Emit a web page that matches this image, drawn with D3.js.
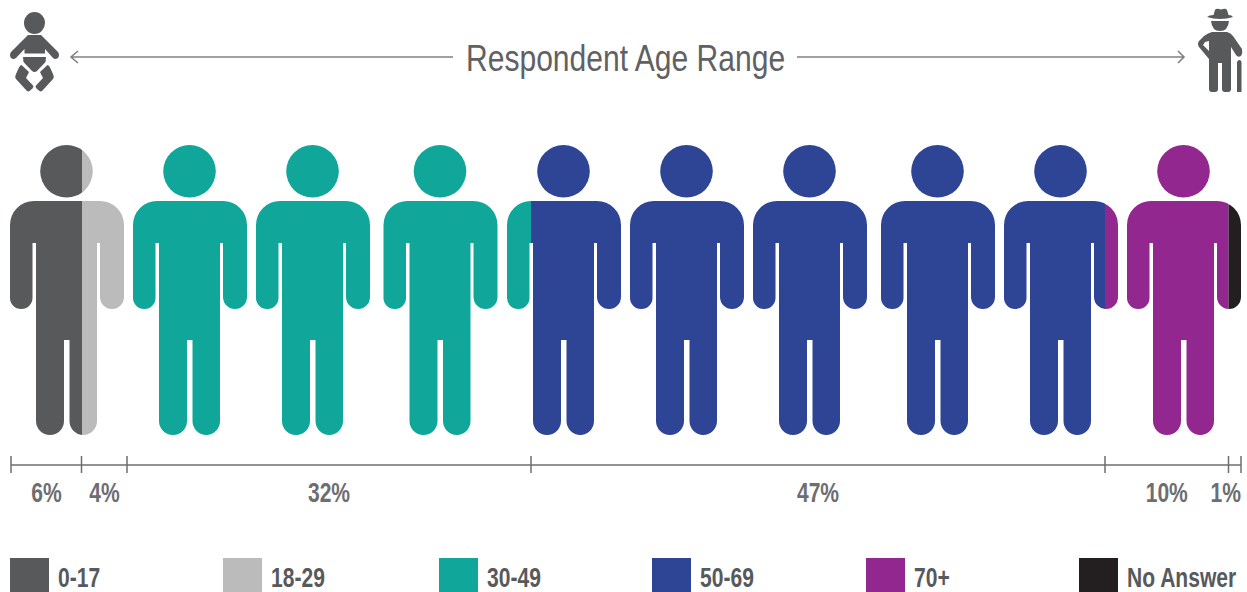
<!DOCTYPE html>
<html><head><meta charset="utf-8">
<script src="https://cdn.jsdelivr.net/npm/d3@7/dist/d3.min.js"></script>
<style>html,body{margin:0;padding:0;background:#fff;overflow:hidden}svg{display:block}
text{font-family:"Liberation Sans",Arial,sans-serif}</style></head>
<body><svg id="c" width="1247" height="592"></svg>
<script>
const categories = ["0-17","18-29","30-49","50-69","70+","No Answer"];
const percents = [6,4,32,47,10,1];
const colors = ["#58595b","#bcbbbb","#10a79a","#2e4596","#92278f","#231f20"];
const title = "Respondent Age Range";
const figureIds = [0,1,2,3,4,5,6,7,8,9];
const figureCenters = [67,190,313,440.5,564,687,810,938,1061,1184];
const legendX = [10,223,439,652,866,1079];

const svg = d3.select("#c");
const cum = [0]; percents.forEach(p => cum.push(cum[cum.length-1]+p));
// piecewise scale: the figures are not evenly spaced, so each break is anchored
const x = d3.scaleLinear().domain(cum).range([11,82,127,531,1105,1228.5,1241]);
const fx = d3.scaleOrdinal().domain(figureIds).range(figureCenters);

const personPath = (()=>{ // relative to figure centre, absolute y
  const p = d3.path();
  const t=201,b=435,arm=309;
  p.moveTo(-33,t);
  p.lineTo(33,t);
  p.arcTo(57,t,57,t+24,24);
  p.lineTo(57,arm-12);
  p.arcTo(57,arm,45,arm,12);
  p.arcTo(33,arm,33,arm-12,12);
  p.lineTo(33,243);
  p.lineTo(30,243);
  p.lineTo(30,b-14);
  p.arcTo(30,b,16,b,14);
  p.arcTo(2.5,b,2.5,b-14,14);
  p.lineTo(2.5,340);
  p.lineTo(-3,340);
  p.lineTo(-3,b-14);
  p.arcTo(-3,b,-17,b,14);
  p.arcTo(-31,b,-31,b-14,14);
  p.lineTo(-31,243);
  p.lineTo(-34.5,243);
  p.lineTo(-34.5,arm-11);
  p.arcTo(-34.5,arm,-46,arm,11);
  p.arcTo(-57,arm,-57,arm-11,11);
  p.lineTo(-57,t+24);
  p.arcTo(-57,t,-33,t,24);
  p.closePath();
  return p.toString();
})();

const defs = svg.append("defs");
const segs = percents.map((p,i)=>({i,cat:categories[i],p,x0:x(cum[i]),x1:x(cum[i+1]),color:colors[i]}));
defs.selectAll("clipPath").data(segs).join("clipPath").attr("id",d=>"seg"+d.i)
  .append("rect").attr("x",d=>d.i===0?0:d.x0).attr("y",130)
  .attr("width",d=>(d.i===5?1247:d.x1)-(d.i===0?0:d.x0)).attr("height",320);

const g = svg.selectAll("g.seg").data(segs).join("g").attr("class","seg")
  .attr("clip-path",d=>`url(#seg${d.i})`).attr("fill",d=>d.color);
figureIds.forEach(id=>{
  g.append("circle").attr("cx",fx(id)-0.5).attr("cy",171.3).attr("r",26.3);
  g.append("path").attr("d",personPath).attr("transform",`translate(${fx(id)},0)`);
});

// title and arrows
const gray="#808184";
svg.append("text").attr("transform","translate(466,71) scale(0.835,1)").attr("font-size",36).attr("fill","#606163").text(title);
const arrows = svg.append("g").attr("fill","none").attr("stroke",gray).attr("stroke-width",1.6);
arrows.append("path").attr("d","M71 57H453M78 51L71 57L78 63");
arrows.append("path").attr("d","M797 57H1184M1178 51L1184 57L1178 63");

// baby
const dark="#58595b";
const baby = svg.append("g").attr("fill",dark);
baby.append("ellipse").attr("cx",34.5).attr("cy",23).attr("rx",10.5).attr("ry",11);
baby.append("path").attr("d","M28 35H41L58 52Q60 55 58 58Q55 60 53 58L45 49V53.5H24.5V49L16 58Q13 60 11 58Q9 55 11 52Z");
baby.append("path").attr("d","M23 57H46L45.5 62L37 71Q34.5 73 32 71L23.5 62Z");
const legPath = "M21.5 65L29 72L26 78L33 85.5Q34 87 32.5 88.5L29.5 91Q28 92 26.5 90.5L16 79Q14.5 76.5 16 74L19 67.5Q20 65 21.5 65Z";
baby.append("path").attr("d",legPath);
baby.append("path").attr("d",legPath).attr("transform","translate(69,0) scale(-1,1)");

// old man
const man = svg.append("g").attr("fill",dark);
man.append("path").attr("d","M1213.5 15L1215 10Q1216 8 1221 9.5Q1226 8 1227 10L1228.5 15Q1232 15 1233 17Q1227 19 1220 19Q1213 19 1207 17Q1209 15 1213.5 15Z");
man.append("path").attr("d","M1211 21H1229Q1228 31 1220 31Q1212 31 1211 21Z");
man.append("path").attr("fill-rule","evenodd").attr("d","M1212 32H1227Q1231 33 1233 36L1242 49Q1243 53 1241 56Q1238 58 1236 55L1231 47V89Q1231 92 1228 92H1225Q1222 92 1222 89V63H1218V89Q1218 92 1215 92H1212Q1209 92 1209 89V59L1199 47Q1197 44 1199 41L1204 36Q1208 33 1212 32ZM1205 42L1203 45L1209 51V41Z");
man.append("path").attr("d","M1237 62Q1238 60 1239.5 60Q1241 60 1241.5 62V92H1237Z");

// bracket axis
const axis = svg.append("g").attr("stroke","#6d6e70").attr("stroke-width",1.5);
axis.append("line").attr("x1",x(0)).attr("x2",x(100)).attr("y1",465).attr("y2",465);
axis.selectAll("line.t").data(cum).join("line").attr("class","t")
  .attr("x1",d=>d===6?81.5:x(d)).attr("x2",d=>d===6?81.5:x(d)).attr("y1",456).attr("y2",473);

// the installed sans is narrowed horizontally to match the condensed lettering
const narrow = 0.78;
svg.selectAll("text.pct").data(segs).join("text").attr("class","pct")
  .attr("transform",d=>`translate(${d.i===5?1241:(d.x0+d.x1)/2},502) scale(${narrow},1)`)
  .attr("text-anchor",d=>d.i===5?"end":"middle")
  .attr("font-size",27).attr("font-weight",700).attr("fill","#6d6e70").text(d=>d.p+"%");

// legend
const lx = d3.scaleOrdinal().domain(categories).range(legendX);
svg.selectAll("rect.lg").data(segs).join("rect").attr("class","lg")
  .attr("x",d=>lx(d.cat)).attr("y",558).attr("width",39).attr("height",34).attr("fill",d=>d.color);
svg.selectAll("text.lg").data(segs).join("text").attr("class","lg")
  .attr("transform",d=>`translate(${lx(d.cat)+48},587) scale(${narrow},1)`)
  .attr("font-size",27).attr("font-weight",700)
  .attr("fill","#58595b").text(d=>d.cat);
</script></body></html>
